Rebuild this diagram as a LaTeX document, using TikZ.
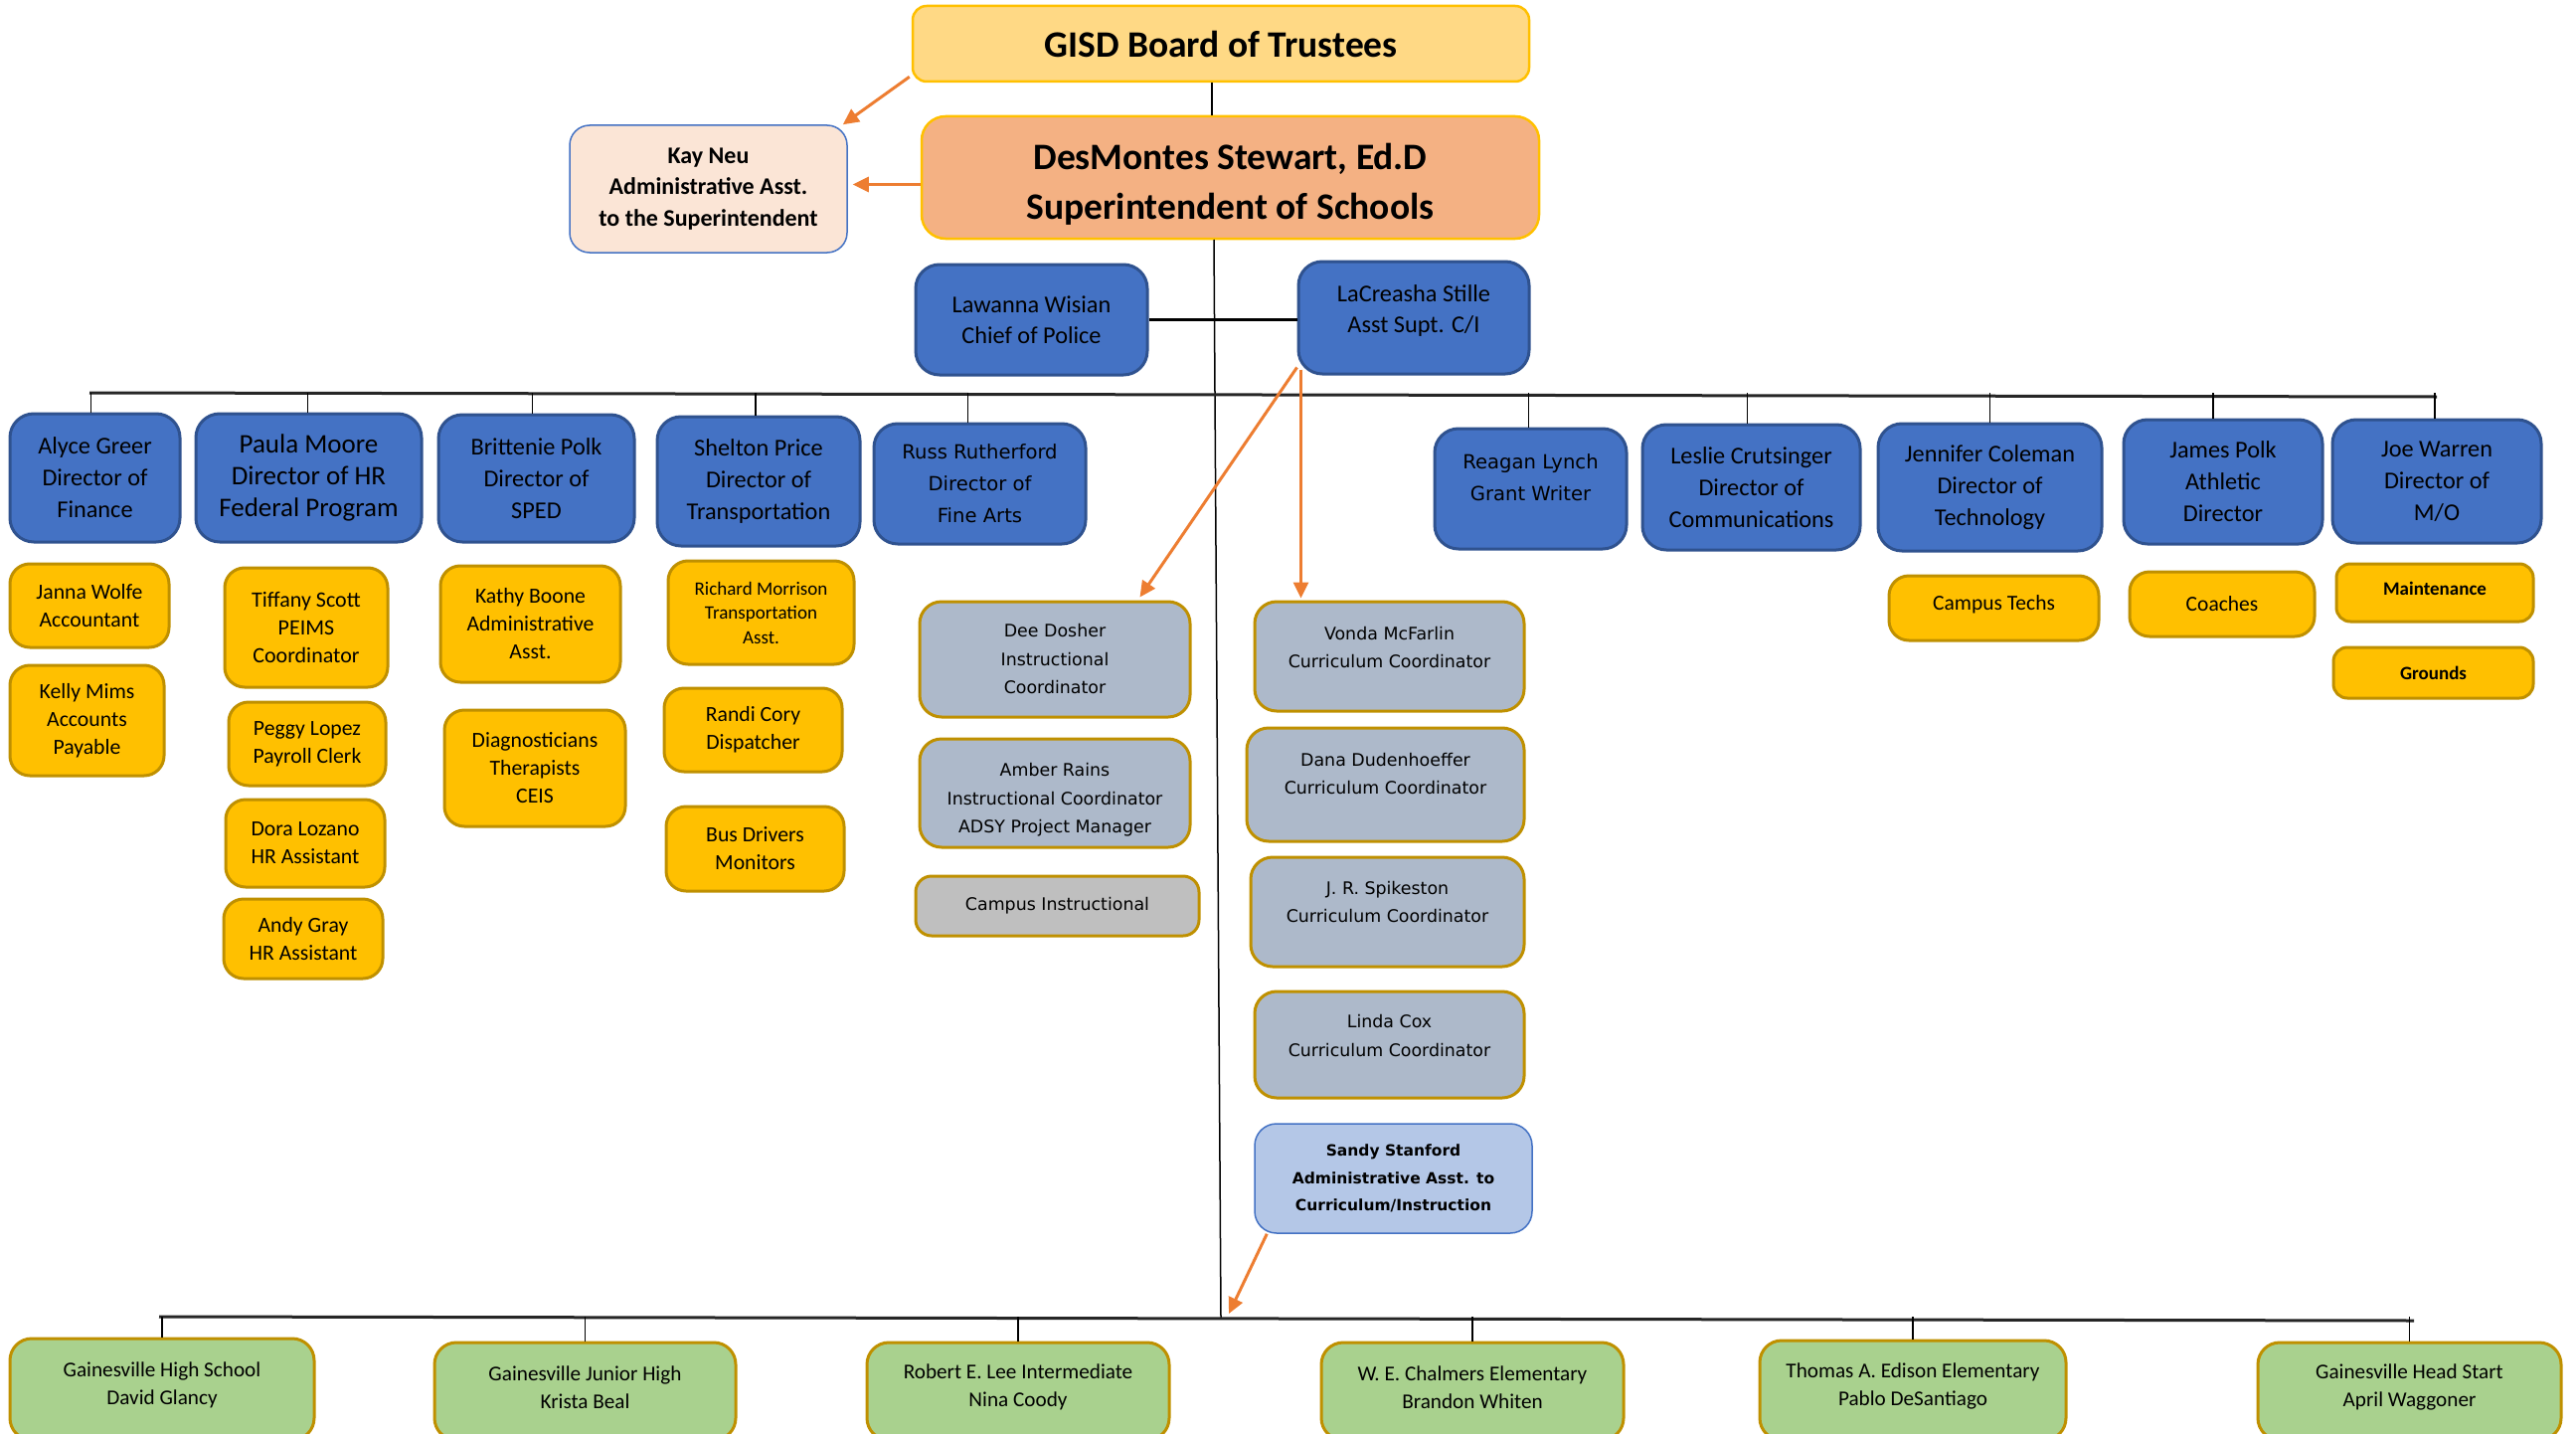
\documentclass[tikz,border=0pt]{standalone}
\usepackage{fontspec}
\setmainfont{Carlito}
\newfontfamily\vfont{DejaVu Sans}
\usetikzlibrary{arrows.meta}
\definecolor{cBoard}{HTML}{FFD985}
\definecolor{cGold}{HTML}{FFC000}
\definecolor{cGoldD}{HTML}{BF9000}
\definecolor{cSup}{HTML}{F4B183}
\definecolor{cKay}{HTML}{FBE5D6}
\definecolor{cBlue}{HTML}{4472C4}
\definecolor{cBlueD}{HTML}{2F528F}
\definecolor{cYel}{HTML}{FFC000}
\definecolor{cGrayBlue}{HTML}{ADB9CA}
\definecolor{cGray}{HTML}{BFBFBF}
\definecolor{cSandy}{HTML}{B4C7E7}
\definecolor{cGreen}{HTML}{A9D18E}
\definecolor{cOrange}{HTML}{ED7D31}
\def\tshift{0pt}
\newcommand\bx[8][]{%
  \node[#2,#1,minimum width={(#6)-(#4)},minimum height={(#7)-(#5)}] (#3) at ({((#4)+(#6))/2},{((#5)+(#7))/2}) {};
  \node[#2,#1,draw=none,fill=none,minimum width=0pt,minimum height=0pt,yshift=\tshift] (#3t) at (#3) {#8};}
\begin{document}
\begin{tikzpicture}[x=1pt,y=-1pt,
  tshift/.store in=\tshift,
  box/.style={inner sep=2pt,align=center,text=black,tshift=0pt},
  board/.style={box,fill=cBoard,draw=cGold,line width=2.5pt,rounded corners=14pt,font=\fontsize{37.5}{44}\selectfont\bfseries},
  sup/.style={box,fill=cSup,draw=cGold,line width=2.5pt,rounded corners=24pt,font=\fontsize{37.5}{50}\selectfont\bfseries},
  kay/.style={box,fill=cKay,draw=cBlue,line width=1.5pt,rounded corners=20pt,font=\fontsize{24}{31.5}\selectfont\bfseries},
  dir/.style={box,fill=cBlue,draw=cBlueD,line width=3pt,rounded corners=24pt,font=\fontsize{24.3}{32}\selectfont},
  dirv/.style={dir,font=\vfont\fontsize{19.6}{32}\selectfont},
  staff/.style={box,fill=cYel,draw=cGoldD,line width=3pt,rounded corners=20pt,font=\fontsize{21.7}{28}\selectfont},
  cur/.style={box,fill=cGrayBlue,draw=cGoldD,line width=3pt,rounded corners=22pt,font=\vfont\fontsize{17.4}{28.5}\selectfont},
  sandy/.style={box,fill=cSandy,draw=cBlue,line width=1.5pt,rounded corners=22pt,font=\vfont\fontsize{15.5}{27.5}\selectfont\bfseries},
  school/.style={box,fill=cGreen,draw=cGoldD,line width=3pt,rounded corners=22pt,font=\fontsize{21.2}{28}\selectfont},
  ln/.style={draw=black,line width=1.5pt},
  bus/.style={draw=black!85,line width=3pt},
  arr/.style={draw=cOrange,line width=3pt,-{Triangle[length=16pt,width=15pt]}}
]
\useasboundingbox (0,0) rectangle (2591,1442);
\clip (0,0) rectangle (2591,1442);

% top
\bx{board}{gisd}{918}{6}{1538}{82}{GISD Board of Trustees}
\bx[tshift=-7pt]{sup}{desm}{927}{117}{1548}{240}{DesMontes Stewart, Ed.D\\Superintendent of Schools}
\bx{kay}{kay}{573}{126}{852}{254}{Kay Neu\\Administrative Asst.\\to the Superintendent}
\bx[font=\fontsize{24.3}{31}\selectfont]{dir}{law}{921}{266}{1154}{377}{Lawanna Wisian\\Chief of Police}
\bx[font=\fontsize{24.3}{31}\selectfont,tshift=7pt]{dir}{lac}{1306}{263}{1538}{376}{LaCreasha Stille\\Asst Supt. C/I}

% directors
\bx{dir}{alyce}{10}{416}{181}{545}{Alyce Greer\\Director of\\Finance}
\bx[font=\fontsize{27}{32}\selectfont]{dir}{paula}{197}{416}{424}{545}{Paula Moore\\Director of HR\\Federal Program}
\bx{dir}{britt}{441}{417}{638}{545}{Brittenie Polk\\Director of\\SPED}
\bx{dir}{shelton}{661}{419}{865}{549}{Shelton Price\\Director of\\Transportation}
\bx{dirv}{russ}{879}{426}{1092}{547}{Russ Rutherford\\Director of\\Fine Arts}
\bx[tshift=11pt]{dirv}{reagan}{1443}{431}{1636}{552}{Reagan Lynch\\Grant Writer}
\bx{dir}{leslie}{1652}{427}{1871}{553}{Leslie Crutsinger\\Director of\\Communications}
\bx{dir}{jen}{1889}{426}{2114}{554}{Jennifer Coleman\\Director of\\Technology}
\bx{dir}{james}{2136}{422}{2336}{547}{James Polk\\Athletic\\Director}
\bx{dir}{joe}{2346}{422}{2556}{546}{Joe Warren\\Director of\\M/O}

% staff
\bx{staff}{janna}{10}{567}{170}{651}{Janna Wolfe\\Accountant}
\bx{staff}{kelly}{10}{669}{165}{780}{Kelly Mims\\Accounts\\Payable}
\bx[font=\fontsize{22}{28}\selectfont]{staff}{tiff}{226}{571}{390}{691}{Tiffany Scott\\PEIMS\\Coordinator}
\bx{staff}{peggy}{230}{706}{388}{790}{Peggy Lopez\\Payroll Clerk}
\bx{staff}{dora}{227}{804}{387}{892}{Dora Lozano\\HR Assistant}
\bx{staff}{andy}{225}{904}{385}{984}{Andy Gray\\HR Assistant}
\bx{staff}{kathy}{443}{569}{624}{686}{Kathy Boone\\Administrative\\Asst.}
\bx{staff}{diag}{447}{714}{629}{831}{Diagnosticians\\Therapists\\CEIS}
\bx[font=\fontsize{19}{24.5}\selectfont]{staff}{rich}{672}{564}{859}{668}{Richard Morrison\\Transportation\\Asst.}
\bx{staff}{randi}{668}{692}{847}{776}{Randi Cory\\Dispatcher}
\bx{staff}{busd}{670}{811}{849}{896}{Bus Drivers\\Monitors}
\bx[font=\fontsize{21.5}{28}\selectfont,tshift=4pt]{staff}{ctech}{1900}{579}{2111}{644}{Campus Techs}
\bx[font=\fontsize{21.5}{28}\selectfont]{staff}{coach}{2142}{575}{2328}{640}{Coaches}
\bx[font=\fontsize{19}{24}\selectfont\bfseries,rounded corners=14pt,tshift=4pt]{staff}{maint}{2350}{567}{2548}{625}{Maintenance}
\bx[font=\fontsize{19}{24}\selectfont\bfseries,rounded corners=14pt]{staff}{ground}{2347}{651}{2548}{702}{Grounds}

% curriculum
\bx{cur}{dee}{925}{605}{1197}{721}{Dee Dosher\\Instructional\\Coordinator}
\bx[tshift=-7pt]{cur}{amber}{925}{743}{1197}{852}{Amber Rains\\Instructional Coordinator\\ADSY Project Manager}
\bx[fill=cGray,rounded corners=16pt]{cur}{cinst}{921}{881}{1206}{941}{Campus Instructional}
\bx[tshift=9pt]{cur}{vonda}{1262}{605}{1533}{715}{Vonda McFarlin\\Curriculum Coordinator}
\bx[tshift=11pt]{cur}{dana}{1254}{732}{1533}{846}{Dana Dudenhoeffer\\Curriculum Coordinator}
\bx[tshift=10pt]{cur}{jr}{1258}{862}{1533}{972}{J. R. Spikeston\\Curriculum Coordinator}
\bx[tshift=9pt]{cur}{linda}{1262}{997}{1533}{1104}{Linda Cox\\Curriculum Coordinator}
\bx{sandy}{sandy}{1262}{1130}{1541}{1240}{Sandy Stanford\\Administrative Asst. to\\Curriculum/Instruction}

% schools
\bx[tshift=4pt]{school}{ghs}{10}{1346}{316}{1448}{Gainesville High School\\David Glancy}
\bx[tshift=4pt]{school}{gjh}{437}{1350}{740}{1448}{Gainesville Junior High\\Krista Beal}
\bx[tshift=4pt]{school}{rel}{872}{1350}{1176}{1448}{Robert E. Lee Intermediate\\Nina Coody}
\bx[tshift=4pt]{school}{chal}{1329}{1350}{1633}{1448}{W. E. Chalmers Elementary\\Brandon Whiten}
\bx[tshift=4pt]{school}{edison}{1770}{1348}{2078}{1448}{Thomas A. Edison Elementary\\Pablo DeSantiago}
\bx[tshift=4pt]{school}{heads}{2271}{1350}{2576}{1448}{Gainesville Head Start\\April Waggoner}

% coordinates
\coordinate (tb1) at (90,395);
\coordinate (tb2) at (2451,399);
\coordinate (sp1) at (1221,241);
\coordinate (sp2) at (1228,1325);
\coordinate (bb1) at (160,1324);
\coordinate (bb2) at (2428,1328);
\coordinate (bbA) at (1236,1321);

% lines
\draw[ln] ([xshift=-9pt]gisd.south) -- ([xshift=-9pt]gisd.south |- desm.north);
\draw[ln] (sp1) -- (sp2);
\draw[ln,line width=2.5pt] (law.east) -- (law.east -| lac.west);
\draw[bus] (tb1) -- (tb2);
\foreach \n/\dx in {alyce/-4,paula/-1,britt/-4,shelton/-3,russ/-12,reagan/-2,leslie/-4,jen/0,james/-10,joe/-2}
  \draw[ln] ([xshift=\dx pt]\n.north) -- ([xshift=\dx pt]\n.north |- tb1);
\draw[bus] (bb1) -- (bb2);
\foreach \n in {ghs,gjh,rel,chal,edison,heads}
  \draw[ln] (\n.north) -- (\n.north |- bb1);

% arrows
\draw[arr] ([xshift=-2pt,yshift=6pt]gisd.south west) -- ([xshift=-5pt]kay.north east);
\draw[arr] ([yshift=-7pt]desm.west) -- ([yshift=-7pt,xshift=5pt]desm.west -| kay.east);
\draw[arr] ([yshift=8pt]lac.south west) -- ([xshift=-52pt,yshift=3pt]dee.north east);
\draw[arr] ([xshift=4pt,yshift=6pt]lac.south west) -- ([xshift=4pt,yshift=2pt]lac.south west |- vonda.north);
\draw[arr] ([xshift=13pt]sandy.south west) -- (bbA);
\end{tikzpicture}
\end{document}
